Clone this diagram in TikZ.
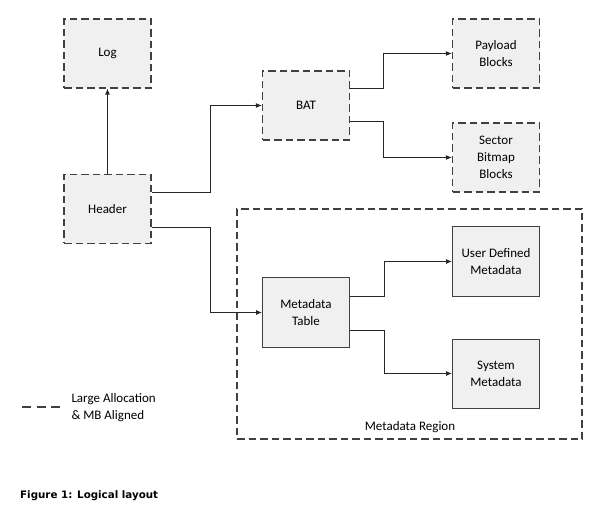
\documentclass[tikz,border=0pt]{standalone}
\usepackage{fontspec}
\setmainfont{Carlito}
\newfontfamily\figfont{DejaVu Sans}
\usepackage{xcolor}
\usepackage{tikz}
\usetikzlibrary{arrows.meta,positioning}
\definecolor{boxline}{HTML}{404040}
\definecolor{boxfill}{HTML}{F0F0F0}
\definecolor{wireline}{HTML}{262626}

\begin{document}
\begin{tikzpicture}[
    x=1pt, y=-1pt,
    every node/.style={font=\fontsize{13}{17}\selectfont},
    block/.style={
        draw=boxline,
        line width=1.2pt,
        dash pattern=on 7.5pt off 4pt,
        fill=boxfill,
        align=center,
        inner sep=0pt,
        minimum width=87pt,
        minimum height=69pt
    },
    solidblock/.style={
        block,
        solid,
        line width=1pt
    },
    region/.style={
        draw=boxline,
        line width=1.2pt,
        dash pattern=on 7.5pt off 4pt,
        inner sep=0pt,
        minimum width=345pt,
        minimum height=230pt
    },
    relation/.style={
        -{Latex[length=6pt,width=5pt]},
        line width=0.9pt,
        draw=wireline
    }
]

\useasboundingbox (0,0) rectangle (600,513);

% ==========================================================
% METADATA REGION
% ==========================================================

\node[region] (region) at (409.5,324) {};

\node (regionlabel) at (410,427) {Metadata Region};

% ==========================================================
% BLOCKS
% ==========================================================

\node[block] (log) at (107.5,53.5) {Log};

\node[block] (header) at (107.5,209) {Header};

\node[block] (bat) at (306,105.5) {BAT};

\node[block] (payload) at (496,53.5) {Payload\\Blocks};

\node[block] (bitmap) at (496,157.5) {Sector\\Bitmap\\Blocks};

\node[solidblock] (mdtable) at (306,312.5) {Metadata\\Table};

\node[solidblock] (userdef) at (496,261.5) {User Defined\\Metadata};

\node[solidblock] (sysmeta) at (496,373.5) {System\\Metadata};

% ==========================================================
% RELATIONSHIPS
% ==========================================================

\draw[relation] (header) -- (log);

\draw[relation]
([yshift=17pt]header.east) -- ++(59,0) |- (bat.west);

\draw[relation]
([yshift=-18pt]header.east) -- ++(59,0) |- (mdtable.west);

\draw[relation]
([yshift=17.5pt]bat.east) -- ++(33,0) |- (payload.west);

\draw[relation]
([yshift=-15.5pt]bat.east) -- ++(33,0) |- (bitmap.west);

\draw[relation]
([yshift=16.5pt]mdtable.east) -- ++(34,0) |- (userdef.west);

\draw[relation]
([yshift=-17.5pt]mdtable.east) -- ++(34,0) |- (sysmeta.west);

% ==========================================================
% LEGEND AND CAPTION
% ==========================================================

\coordinate (legstart) at (22,407);
\coordinate (legend) at (60,407);
\draw[boxline, line width=1.2pt, dash pattern=on 9pt off 5.5pt]
(legstart) -- (legend);

\node[anchor=west, align=left] (legtext) at (68,408)
{Large Allocation\\\& MB Aligned};

\node[anchor=west, inner sep=0pt,
      font=\figfont\bfseries\fontsize{10.3}{12}\selectfont] (caption)
at (20,496) {Figure 1: Logical layout};

\end{tikzpicture}
\end{document}
